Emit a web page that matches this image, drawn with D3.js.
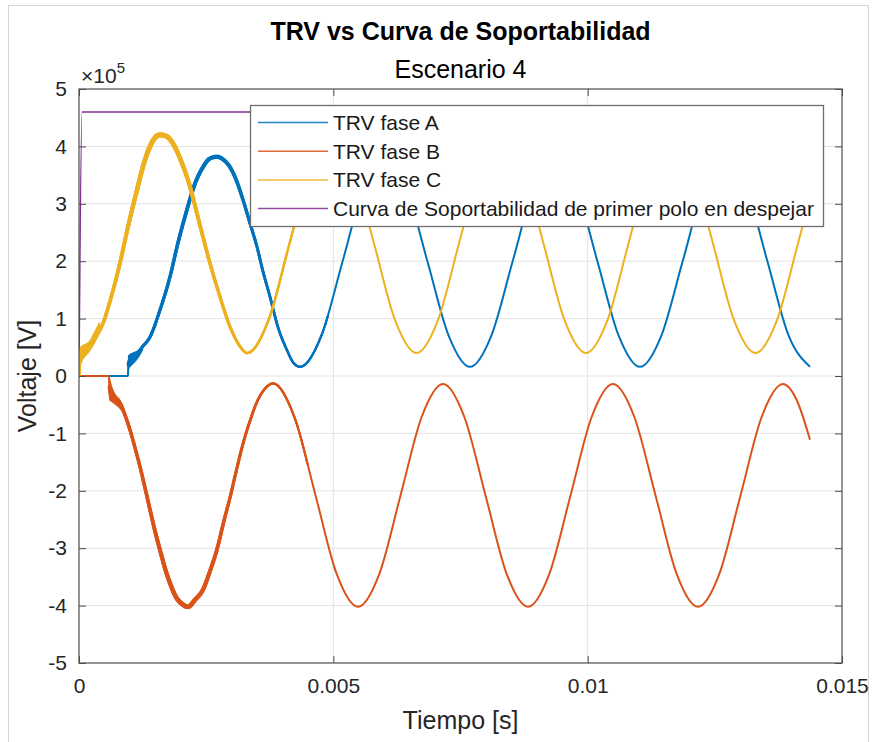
<!DOCTYPE html>
<html><head><meta charset="utf-8">
<script src="https://cdn.jsdelivr.net/npm/d3@7"></script>
<style>
body{margin:0;background:#fff}
svg{display:block}
text{font-family:"Liberation Sans",Arial,Helvetica,sans-serif}
</style>
</head><body>
<svg id="c" width="875" height="742"></svg>
<script>
// ---------------- DATA (time in ms, voltage in units of 1e5 V) ----------------
const xTicks = [0, 0.005, 0.01, 0.015];
const xTickLabels = ["0", "0.005", "0.01", "0.015"];
const yTicks = [-5, -4, -3, -2, -1, 0, 1, 2, 3, 4, 5];
const yTickLabels = ["-5", "-4", "-3", "-2", "-1", "0", "1", "2", "3", "4", "5"];
const seriesNames = ["TRV fase A", "TRV fase B", "TRV fase C", "Curva de Soportabilidad de primer polo en despejar"];

const tA = [0, 0.963, 0.971, 1.022, 1.121, 1.239, 1.396, 1.592, 1.789, 1.946, 2.123, 2.280, 2.438, 2.575, 2.713, 2.851, 2.968, 3.106, 3.224, 3.362, 3.499, 3.617, 3.755, 3.912, 4.089, 4.207, 4.345,
  4.763, 5.180, 5.598, 6.016, 6.434, 6.852, 7.269, 7.687, 8.105, 8.523, 8.940, 9.358, 9.776, 10.194, 10.611, 11.029,
  11.447, 11.865, 12.282, 12.700, 13.118, 13.536, 13.953, 14.371];
const vA = [0, 0, 0.22, 0.30, 0.36, 0.50, 0.68, 1.15, 1.73, 2.32, 2.90, 3.35, 3.64, 3.79, 3.82, 3.76, 3.64, 3.38, 3.07, 2.66, 2.25, 1.82, 1.38, 0.85, 0.45, 0.24, 0.16,
  0.70, 1.99, 3.28, 3.82, 3.28, 1.99, 0.70, 0.16, 0.70, 1.99, 3.28, 3.82, 3.28, 1.99, 0.70, 0.16,
  0.70, 1.99, 3.28, 3.82, 3.28, 1.99, 0.70, 0.16];

const tB = [0, 0.590, 0.600, 0.649, 0.727, 0.806, 0.904, 1.003, 1.101, 1.199, 1.298, 1.396, 1.494, 1.592, 1.691, 1.789, 1.907, 2.025, 2.143, 2.280, 2.438, 2.575, 2.713, 2.851, 2.968, 3.106, 3.224, 3.362, 3.499, 3.657, 3.814,
  4.232, 4.650, 5.067, 5.485, 5.903, 6.321, 6.738, 7.156, 7.574, 7.992, 8.409, 8.827, 9.245, 9.663, 10.080, 10.498,
  10.916, 11.334, 11.751, 12.169, 12.587, 13.005, 13.422, 13.840, 14.100, 14.371];
const vB = [0, 0, -0.20, -0.38, -0.42, -0.47, -0.68, -0.94, -1.25, -1.58, -1.95, -2.33, -2.70, -3.03, -3.35, -3.61, -3.85, -3.97, -4.02, -3.90, -3.72, -3.40, -3.02, -2.52, -2.12, -1.60, -1.18, -0.78, -0.45, -0.22, -0.13,
  -0.71, -2.08, -3.45, -4.02, -3.45, -2.08, -0.71, -0.14, -0.71, -2.08, -3.45, -4.02, -3.45, -2.08, -0.71, -0.14,
  -0.71, -2.08, -3.45, -4.02, -3.45, -2.08, -0.71, -0.14, -0.40, -1.11];

const tC = [0, 0.020, 0.098, 0.216, 0.334, 0.472, 0.609, 0.806, 0.963, 1.140, 1.258, 1.396, 1.494, 1.592, 1.710, 1.848, 2.005, 2.182, 2.300, 2.438, 2.595, 2.772, 2.929, 3.106, 3.204, 3.303,
  3.720, 4.136, 4.553, 4.969, 5.386, 5.802, 6.219, 6.635, 7.052, 7.468, 7.885, 8.301, 8.718, 9.134, 9.551, 9.967,
  10.384, 10.800, 11.217, 11.633, 12.050, 12.466, 12.883, 13.299, 13.716, 14.132, 14.371];
const vC = [0, 0.35, 0.42, 0.50, 0.68, 0.92, 1.30, 1.97, 2.60, 3.24, 3.65, 4.00, 4.15, 4.20, 4.18, 4.05, 3.75, 3.30, 2.90, 2.42, 1.90, 1.38, 0.95, 0.60, 0.47, 0.40,
  0.96, 2.30, 3.64, 4.20, 3.64, 2.30, 0.96, 0.40, 0.96, 2.30, 3.64, 4.20, 3.64, 2.30, 0.96, 0.40,
  0.96, 2.30, 3.64, 4.20, 3.64, 2.30, 0.96, 0.40, 0.96, 2.30, 3.10];

const tD = [0, 0.06, 14.371];
const vD = [0, 4.6, 4.6];

// switching transients (noise envelope right after each phase opens)
const noiseA = {t: [0.963, 0.975, 1.05, 1.15, 1.25], lo: [0, 0.12, 0.20, 0.30, 0.45], hi: [0, 0.36, 0.40, 0.44, 0.54]};
const noiseB = {t: [0.590, 0.600, 0.650, 0.720, 0.800, 0.880], lo: [0, -0.42, -0.45, -0.50, -0.56, -0.66], hi: [0, -0.04, -0.20, -0.33, -0.41, -0.60]};
const noiseC = {t: [0, 0.02, 0.06, 0.12, 0.20, 0.30, 0.40], lo: [0, 0.14, 0.26, 0.34, 0.42, 0.57, 0.76], hi: [0, 0.48, 0.53, 0.55, 0.60, 0.76, 0.93]};
// high-frequency ripple thickness along the first cycle
const rippleA = {t: [0.97, 1.6, 2.7, 3.5, 4.4, 5.0], w: [3.2, 3.2, 4.2, 3.0, 2.3, 2]};
const rippleB = {t: [0.6, 1.2, 2.1, 3.0, 3.8, 4.6], w: [3.6, 3.4, 4.8, 3.2, 2.4, 2]};
const rippleC = {t: [0, 0.8, 1.6, 2.5, 3.4, 4.5], w: [3.4, 3.8, 5.2, 3.6, 2.6, 2]};

const colors = ["#0072BD", "#D95319", "#EDB120", "#7E2F8E"];

// ---------------- CHART ----------------
const svg = d3.select("#c");
const L = 79, R = 842, T = 89, B = 663;
const x = d3.scaleLinear().domain([0, 0.015]).range([L, R]);
const y = d3.scaleLinear().domain([-5e5, 5e5]).range([B, T]);
const ink = "#262626", axisCol = "#4d4d4d";

// outer figure frame
svg.append("rect").attr("x", 8.5).attr("y", 5.5).attr("width", 860).attr("height", 760)
  .attr("fill", "none").attr("stroke", "#d4d4d4");

// grid
const grid = svg.append("g");
grid.selectAll(".gx").data(xTicks.slice(1, -1)).join("line")
  .attr("x1", d => x(d)).attr("x2", d => x(d)).attr("y1", T).attr("y2", B)
  .attr("stroke", "#e3e3e3").attr("stroke-width", 1);
grid.selectAll(".gy").data(yTicks.slice(1, -1)).join("line")
  .attr("y1", d => y(d * 1e5)).attr("y2", d => y(d * 1e5)).attr("x1", L).attr("x2", R)
  .attr("stroke", "#e3e3e3").attr("stroke-width", 1);

svg.append("clipPath").attr("id", "clip").append("rect")
  .attr("x", L).attr("y", T).attr("width", R - L).attr("height", B - T);
const plot = svg.append("g").attr("clip-path", "url(#clip)");

const mk = (ts, vs) => ts.map((t, i) => ({t: t / 1000, v: vs[i] * 1e5}));
const line = d3.line().x(d => x(d.t)).y(d => y(d.v)).curve(d3.curveMonotoneX);
const area = d3.area().x(d => x(d.t)).y0(d => y(d.lo)).y1(d => y(d.hi)).curve(d3.curveMonotoneX);

const series = [
  {d: mk(tA, vA), c: colors[0], noise: noiseA, ripple: rippleA},
  {d: mk(tB, vB), c: colors[1], noise: noiseB, ripple: rippleB},
  {d: mk(tC, vC), c: colors[2], noise: noiseC, ripple: rippleC},
  {d: mk(tD, vD), c: colors[3]}
];
const drawOrder = [3, 0, 1, 2];
drawOrder.forEach(k => {
  const s = series[k];
  const p = plot.append("path").datum(s.d).attr("d", line)
    .attr("fill", "none").attr("stroke", s.c).attr("stroke-width", k === 3 ? 1.5 : 2)
    .attr("stroke-linejoin", "round");
  if (s.ripple) {
    const wS = d3.scaleLinear().domain(s.ripple.t).range(s.ripple.w).clamp(true);
    const node = p.node(), len = node.getTotalLength();
    const g = plot.append("g").attr("stroke", s.c).attr("stroke-linecap", "round");
    let prev = node.getPointAtLength(0);
    for (let l = 1.5; l <= len; l += 1.5) {
      const pt = node.getPointAtLength(l);
      const tt = x.invert(pt.x) * 1000;
      if (tt > s.ripple.t[s.ripple.t.length - 1]) break;
      const w = wS(tt);
      if (tt >= s.ripple.t[0] && w > 2.05)
        g.append("line").attr("x1", prev.x).attr("y1", prev.y).attr("x2", pt.x).attr("y2", pt.y).attr("stroke-width", w);
      prev = pt;
    }
  }
  if (s.noise) {
    const nd = s.noise.t.map((t, i) => ({t: t / 1000, lo: s.noise.lo[i] * 1e5, hi: s.noise.hi[i] * 1e5}));
    plot.append("path").datum(nd).attr("d", area).attr("fill", s.c).attr("stroke", s.c).attr("stroke-width", 1);
  }
});

// legend
const lg = svg.append("g");
lg.append("rect").attr("x", 250.5).attr("y", 105.5).attr("width", 573).attr("height", 121)
  .attr("fill", "#fff").attr("stroke", "#6e6e6e").attr("stroke-width", 1.3);
seriesNames.forEach((n, i) => {
  const yy = 122.5 + i * 28.7;
  lg.append("line").attr("x1", 258).attr("x2", 328).attr("y1", yy).attr("y2", yy)
    .attr("stroke", colors[i]).attr("stroke-width", 1.5).attr("opacity", 0.85);
  lg.append("text").attr("x", 333).attr("y", yy).attr("dy", "0.36em")
    .attr("font-size", 21).attr("fill", "#1a1a1a").text(n);
});

// axes
function styleAxis(g) {
  g.select(".domain").remove();
  g.selectAll(".tick line").attr("stroke", axisCol).attr("stroke-width", 1);
  g.selectAll("text").attr("fill", ink).attr("font-size", 21).attr("font-family", '"Liberation Sans",Arial,sans-serif');
}
svg.append("g").attr("transform", `translate(0,${B})`)
  .call(d3.axisBottom(x).tickValues(xTicks).tickFormat((d, i) => xTickLabels[i]).tickSizeInner(-7).tickSizeOuter(0).tickPadding(15))
  .call(styleAxis);
svg.append("g").attr("transform", `translate(0,${T})`)
  .call(d3.axisTop(x).tickValues(xTicks).tickFormat("").tickSizeInner(-7).tickSizeOuter(0))
  .call(styleAxis);
svg.append("g").attr("transform", `translate(${L},0)`)
  .call(d3.axisLeft(y).tickValues(yTicks.map(v => v * 1e5)).tickFormat((d, i) => yTickLabels[i]).tickSizeInner(-7).tickSizeOuter(0).tickPadding(12))
  .call(styleAxis);
svg.append("g").attr("transform", `translate(${R},0)`)
  .call(d3.axisRight(y).tickValues(yTicks.map(v => v * 1e5)).tickFormat("").tickSizeInner(-7).tickSizeOuter(0))
  .call(styleAxis);

svg.append("rect").attr("x", L).attr("y", T).attr("width", R - L).attr("height", B - T)
  .attr("fill", "none").attr("stroke", axisCol).attr("stroke-width", 1.2);

// exponent
const ex = svg.append("text").attr("x", 81).attr("y", 83).attr("font-size", 21).attr("fill", ink);
ex.append("tspan").text("×10");
ex.append("tspan").attr("font-size", 15).attr("dy", -10).text("5");

// titles and labels
svg.append("text").attr("x", (L + R) / 2).attr("y", 40).attr("text-anchor", "middle")
  .attr("font-size", 25).attr("font-weight", "bold").attr("fill", "#000").text("TRV vs Curva de Soportabilidad");
svg.append("text").attr("x", (L + R) / 2).attr("y", 78).attr("text-anchor", "middle")
  .attr("font-size", 25).attr("fill", "#000").text("Escenario 4");
svg.append("text").attr("x", (L + R) / 2).attr("y", 729).attr("text-anchor", "middle")
  .attr("font-size", 25).attr("fill", ink).text("Tiempo [s]");
svg.append("text").attr("transform", `translate(36,${(T + B) / 2}) rotate(-90)`).attr("text-anchor", "middle")
  .attr("font-size", 25).attr("fill", ink).text("Voltaje [V]");
</script>
</body></html>
